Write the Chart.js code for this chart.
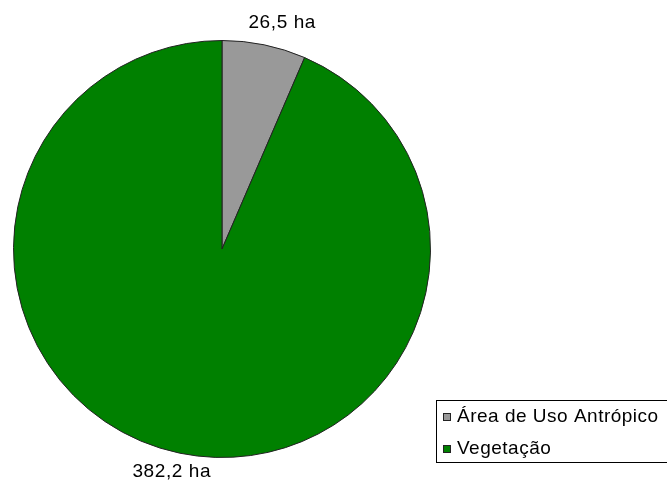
<!DOCTYPE html>
<html>
<head>
<meta charset="utf-8">
<script src="https://cdn.jsdelivr.net/npm/chart.js@4.4.1/dist/chart.umd.min.js"></script>
<style>
  html, body { margin: 0; padding: 0; background: #fff; }
  #wrap { width: 667px; height: 487px; position: relative; }
</style>
</head>
<body>
<div id="wrap"><canvas id="pie"></canvas></div>
<script>
// dados (ha)
const categorias = ["Área de Uso Antrópico", "Vegetação"];
const areas = [26.5, 382.2];
const rotulos = ["26,5 ha", "382,2 ha"];
const cores = ["#999999", "#008000"];

// rótulos de dados fora das fatias
const rotulosPlugin = {
    id: 'rotulos',
    afterDatasetsDraw(chart) {
        const ctx = chart.ctx;
        const meta = chart.getDatasetMeta(0);
        ctx.save();
        ctx.font = '19px "Liberation Sans", Arial, sans-serif';
        ctx.letterSpacing = '0.6px';
        ctx.fillStyle = '#000';
        ctx.textAlign = 'center';
        ctx.textBaseline = 'middle';
        meta.data.forEach((arc, i) => {
            const p = arc.getProps(['x', 'y', 'startAngle', 'endAngle', 'outerRadius'], true);
            const meio = (p.startAngle + p.endAngle) / 2;
            const d = p.outerRadius + 20;
            ctx.fillText(rotulos[i], p.x + Math.cos(meio) * d + (i === 0 ? 14 : -4), p.y + Math.sin(meio) * d - (i === 0 ? 2 : 1));
        });
        ctx.restore();
    }
};

// legenda no canto inferior direito
const legendaPlugin = {
    id: 'legenda',
    afterDraw(chart) {
        const ctx = chart.ctx;
        ctx.save();
        ctx.strokeStyle = '#000';
        ctx.lineWidth = 1;
        ctx.fillStyle = '#fff';
        ctx.fillRect(436.5, 400.5, 240, 62);
        ctx.strokeRect(436.5, 400.5, 240, 62);
        ctx.font = '19px "Liberation Sans", Arial, sans-serif';
        ctx.letterSpacing = '0.5px';
        ctx.textBaseline = 'middle';
        categorias.forEach((nome, i) => {
            const y = 417 + i * 32;
            ctx.fillStyle = cores[i];
            ctx.fillRect(443, y - 4, 8, 8);
            ctx.strokeStyle = '#222';
            ctx.strokeRect(443.5, y - 3.5, 7, 7);
            ctx.fillStyle = '#000';
            ctx.fillText(nome, 457, y);
        });
        ctx.restore();
    }
};

new Chart(document.getElementById('pie'), {
    type: 'pie',
    data: {
        labels: categorias,
        datasets: [{
            data: areas,
            backgroundColor: cores,
            borderColor: '#222',
            borderWidth: 1
        }]
    },
    options: {
        responsive: true,
        maintainAspectRatio: false,
        animation: false,
        layout: { padding: { left: 13, right: 236, top: 40, bottom: 29 } },
        plugins: {
            legend: { display: false },
            tooltip: { enabled: false }
        }
    },
    plugins: [rotulosPlugin, legendaPlugin]
});
</script>
</body>
</html>
